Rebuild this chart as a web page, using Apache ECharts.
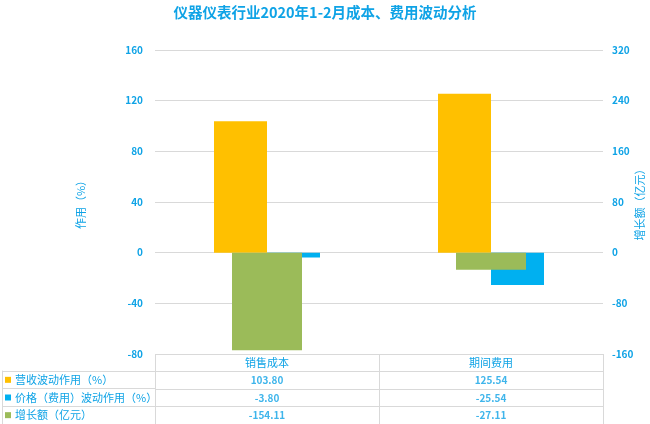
<!DOCTYPE html>
<html>
<head>
<meta charset="utf-8">
<script src="https://cdn.jsdelivr.net/npm/echarts@6/dist/echarts.min.js"></script>
<style>
html,body{margin:0;padding:0;background:#fff;}
#c{width:650px;height:424px;}
</style>
</head>
<body>
<div id="c"></div>
<script>
var titleText = '仪器仪表行业2020年1-2月成本、费用波动分析';
var categories = ['销售成本', '期间费用'];
var seriesNames = ['营收波动作用（%）', '价格（费用）波动作用（%）', '增长额（亿元）'];
var revenueEffect = [103.80, 125.54];
var priceEffect = [-3.80, -25.54];
var growthAmount = [-154.11, -27.11];
var leftAxisName = '作用（%）';
var rightAxisName = '增长额（亿元）';
var colors = ['#FFC000', '#00B0F0', '#9BBB59'];

var txt = '#0FA3E6';
var gridC = '#D9D9D9';
var ff = '"Noto Sans CJK SC", "Noto Sans", sans-serif';
var allVals = [revenueEffect, priceEffect, growthAmount];

var cellData = [];
for (var r = 0; r < allVals.length; r++) {
  for (var c = 0; c < categories.length; c++) {
    cellData.push([c, r + 1, allVals[r][c].toFixed(2)]);
  }
}
var rich = {t: {color: txt, fontSize: 11, fontFamily: ff, padding: [0, 0, 0, 4]}};
seriesNames.forEach(function (n, i) {
  rich['s' + i] = {width: 6, height: 6, backgroundColor: colors[i]};
});

var chart = echarts.init(document.getElementById('c'));
chart.setOption({
  animation: false,
  textStyle: {fontFamily: ff},
  title: {
    text: titleText, left: 'center', top: 0,
    textStyle: {color: txt, fontSize: 14.5, fontWeight: 'bold', fontFamily: ff}
  },
  grid: [
    {left: 155, right: 47, top: 50, bottom: 70, containLabel: false, outerBoundsMode: 'none'},
    {left: 155, right: 47, top: 354, bottom: 0, containLabel: false, outerBoundsMode: 'none'},
    {left: 2, width: 153, top: 371, bottom: 0, containLabel: false, outerBoundsMode: 'none'}
  ],
  xAxis: [
    {type: 'category', data: categories, gridIndex: 0,
     axisLine: {show: false, onZero: false}, axisTick: {show: false},
     axisLabel: {color: txt, fontSize: 11, margin: 3, fontFamily: ff}},
    {type: 'category', data: categories, gridIndex: 0, show: false,
     axisLine: {onZero: false}},
    {type: 'category', data: categories, gridIndex: 1,
     axisLine: {show: true, lineStyle: {color: gridC}}, axisTick: {show: false},
     axisLabel: {show: false},
     splitLine: {show: true, lineStyle: {color: gridC, width: 1}}},
    {type: 'value', gridIndex: 2, show: false}
  ],
  yAxis: [
    {type: 'value', gridIndex: 0, min: -80, max: 160, interval: 40,
     name: leftAxisName, nameLocation: 'middle', nameGap: 69, nameRotate: 90,
     nameMoveOverlap: false,
     nameTextStyle: {color: txt, fontSize: 11, fontFamily: ff},
     axisLine: {show: false}, axisTick: {show: false},
     axisLabel: {color: txt, fontSize: 10, fontWeight: 'bold', margin: 12, fontFamily: ff},
     splitLine: {show: true, lineStyle: {color: gridC, width: 1}}},
    {type: 'value', gridIndex: 0, position: 'right', min: -160, max: 320, interval: 80,
     name: rightAxisName, nameLocation: 'middle', nameGap: 31, nameRotate: 90,
     nameMoveOverlap: false,
     nameTextStyle: {color: txt, fontSize: 11, fontFamily: ff},
     axisLine: {show: false}, axisTick: {show: false},
     axisLabel: {color: txt, fontSize: 10, fontWeight: 'bold', margin: 9, fontFamily: ff},
     splitLine: {show: false}},
    {type: 'category', gridIndex: 1, inverse: true, data: ['h', 'r1', 'r2', 'r3'],
     axisLine: {show: false}, axisTick: {show: false}, axisLabel: {show: false},
     splitLine: {show: true, lineStyle: {color: gridC, width: 1}}},
    {type: 'category', gridIndex: 2, inverse: true, data: seriesNames,
     axisLine: {show: true, lineStyle: {color: gridC}}, axisTick: {show: false},
     axisLabel: {inside: true, margin: 3, formatter: function (v, i) {
       return '{s' + i + '|}{t|' + v + '}';
     }, rich: rich},
     splitLine: {show: true, lineStyle: {color: gridC, width: 1}}}
  ],
  series: [
    {name: seriesNames[0], type: 'bar', xAxisIndex: 0, yAxisIndex: 0,
     data: revenueEffect, barWidth: 53, barGap: '0%', itemStyle: {color: colors[0]}},
    {name: seriesNames[1], type: 'bar', xAxisIndex: 0, yAxisIndex: 0,
     data: priceEffect, barWidth: 53, barGap: '0%', itemStyle: {color: colors[1]}},
    {name: seriesNames[2], type: 'bar', xAxisIndex: 1, yAxisIndex: 1,
     data: growthAmount, barWidth: 70, itemStyle: {color: colors[2]}},
    {type: 'scatter', xAxisIndex: 2, yAxisIndex: 2, symbolSize: 0,
     data: cellData,
     label: {show: true, position: 'inside', color: txt, fontSize: 10, fontWeight: 'bold', fontFamily: ff,
       formatter: function (p) { return p.value[2]; }}}
  ]
});
</script>
</body>
</html>
